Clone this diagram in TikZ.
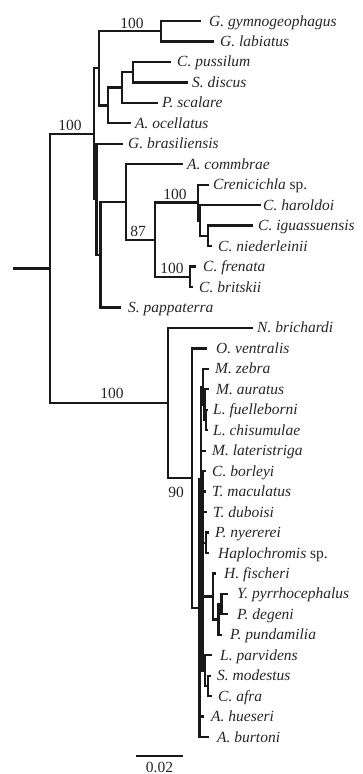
\documentclass[tikz,border=0pt]{standalone}
\usepackage{fontspec}
\setmainfont{Liberation Serif}
\newcommand{\leafnode}[5]{\coordinate (#1) at (#2,#3); \node[lab] (#1l) at (#4,#3) {#5};}
\begin{document}
\begin{tikzpicture}[x=1pt,y=-1pt]
\tikzset{
 br/.style={line width=2.3pt, line cap=rect, line join=miter, color=black!90},
 lab/.style={anchor=west, inner sep=0pt, text height=10pt, text depth=0pt, text=black!85, font=\fontsize{15.5}{18}\selectfont\itshape},
 bs/.style={anchor=base, inner sep=0pt, text=black!85, font=\fontsize{15.5}{18}\selectfont},
}
\useasboundingbox (0,0) rectangle (362,774);
% leaves
\leafnode{t0}{200}{21}{209}{G. gymnogeophagus}
\leafnode{t1}{213}{41.5}{220}{G. labiatus}
\leafnode{t2}{170}{61.9}{177}{C. pussilum}
\leafnode{t3}{187}{82.4}{192}{S. discus}
\leafnode{t4}{157}{102.8}{162}{P. scalare}
\leafnode{t5}{130}{123.3}{135}{A. ocellatus}
\leafnode{t6}{122}{143.8}{128}{G. brasiliensis}
\leafnode{t7}{182}{164.2}{187}{A. commbrae}
\leafnode{t8}{208}{184.7}{213}{Crenicichla \upshape sp.}
\leafnode{t9}{260}{205.1}{263}{C. haroldoi}
\leafnode{t10}{252}{225.6}{258}{C. iguassuensis}
\leafnode{t11}{211}{246.1}{218}{C. niederleinii}
\leafnode{t12}{195}{266.5}{203}{C. frenata}
\leafnode{t13}{192}{287}{199}{C. britskii}
\leafnode{t14}{120}{307.4}{128}{S. pappaterra}
\leafnode{t15}{252}{327.9}{257}{N. brichardi}
\leafnode{t16}{206}{348.4}{216}{O. ventralis}
\leafnode{t17}{208}{368.8}{215}{M. zebra}
\leafnode{t18}{208}{389.3}{216}{M. auratus}
\leafnode{t19}{207}{409.7}{213}{L. fuelleborni}
\leafnode{t20}{207}{430.2}{213}{L. chisumulae}
\leafnode{t21}{205}{450.7}{212}{M. lateristriga}
\leafnode{t22}{205}{471.1}{212}{C. borleyi}
\leafnode{t23}{205}{491.6}{212}{T. maculatus}
\leafnode{t24}{206}{512}{213}{T. duboisi}
\leafnode{t25}{208}{532.5}{215}{P. nyererei}
\leafnode{t26}{208}{553}{218}{Haplochromis \upshape sp.}
\leafnode{t27}{215}{573.4}{224}{H. fischeri}
\leafnode{t28}{227}{593.9}{237}{Y. pyrrhocephalus}
\leafnode{t29}{227}{614.3}{237}{P. degeni}
\leafnode{t30}{221}{634.8}{230}{P. pundamilia}
\leafnode{t31}{211}{655.3}{220}{L. parvidens}
\leafnode{t32}{210}{675.7}{217}{S. modestus}
\leafnode{t33}{211}{696.2}{218}{C. afra}
\leafnode{t34}{203}{716.6}{211}{A. hueseri}
\leafnode{t35}{208}{737.1}{217}{A. burtoni}
% internal nodes
\coordinate (r0) at (14,268.4);
\coordinate (n0) at (50,268.4);
\coordinate (nA) at (94,133.8);
\coordinate (nB) at (99,68.3);
\coordinate (nG) at (161,31.3);
\coordinate (nO) at (108,105.4);
\coordinate (nP) at (122,87.6);
\coordinate (nS) at (133,72.2);
\coordinate (nY) at (96.5,199.2);
\coordinate (nZ) at (100.5,254.7);
\coordinate (nW) at (126,201.9);
\coordinate (nV) at (155,239.7);
\coordinate (nF) at (190,276.75);
\coordinate (nU) at (198,202.6);
\coordinate (nU2) at (200,220.5);
\coordinate (nT) at (208,235.85);
\coordinate (nC) at (168,403.05);
\coordinate (n90) at (192,478.2);
\coordinate (nQ) at (199.5,607.95);
\coordinate (nR) at (201,478.8);
\coordinate (nM) at (203,386.7);
\coordinate (nM2) at (204.5,404.6);
\coordinate (nL) at (206,419.95);
\coordinate (nR2) at (202.5,570.85);
\coordinate (nPH) at (206,542.75);
\coordinate (nH) at (213,596.4);
\coordinate (nYP) at (218.5,619.45);
\coordinate (nYD) at (221.5,604.1);
\coordinate (nLP) at (205,670.6);
\coordinate (nSC) at (208,685.95);
% branches
\draw[br] (r0) -- (n0);
\draw[br] (n0) |- (nA) (n0) |- (nC);
\draw[br] (nA) |- (nB) (nA) |- (nY);
\draw[br] (nB) |- (nG) (nB) |- (nO);
\draw[br] (nG) |- (t0) (nG) |- (t1);
\draw[br] (nO) |- (nP) (nO) |- (t5);
\draw[br] (nP) |- (nS) (nP) |- (t4);
\draw[br] (nS) |- (t2) (nS) |- (t3);
\draw[br] (nY) |- (t6) (nY) |- (nZ);
\draw[br] (nZ) |- (nW) (nZ) |- (t14);
\draw[br] (nW) |- (t7) (nW) |- (nV);
\draw[br] (nV) |- (nU) (nV) |- (nF);
\draw[br] (nF) |- (t12) (nF) |- (t13);
\draw[br] (nU) |- (t8) (nU) |- (nU2);
\draw[br] (nU2) |- (t9) (nU2) |- (nT);
\draw[br] (nT) |- (t10) (nT) |- (t11);
\draw[br] (nC) |- (t15) (nC) |- (n90);
\draw[br] (n90) |- (t16) (n90) |- (nQ);
\draw[br] (nQ) |- (nR) (nQ) |- (t34) (nQ) |- (t35);
\draw[br] (nR) |- (nM) (nR) |- (t21) (nR) |- (nR2);
\draw[br] (nM) |- (t17) (nM) |- (nM2);
\draw[br] (nM2) |- (t18) (nM2) |- (nL);
\draw[br] (nL) |- (t19) (nL) |- (t20);
\draw[br] (nR2) |- (t22) (nR2) |- (t23) (nR2) |- (t24) (nR2) |- (nPH) (nR2) |- (nH) (nR2) |- (nLP);
\draw[br] (nPH) |- (t25) (nPH) |- (t26);
\draw[br] (nH) |- (t27) (nH) |- (nYP);
\draw[br] (nYP) |- (nYD) (nYP) |- (t30);
\draw[br] (nYD) |- (t28) (nYD) |- (t29);
\draw[br] (nLP) |- (t31) (nLP) |- (nSC);
\draw[br] (nSC) |- (t32) (nSC) |- (t33);
% bootstrap values
\node[bs] (b1) at (132,28.5) {100};
\node[bs] (b2) at (70,130) {100};
\node[bs] (b3) at (138,236) {87};
\node[bs] (b4) at (175,199.5) {100};
\node[bs] (b5) at (172,273) {100};
\node[bs] (b6) at (112,398.5) {100};
\node[bs] (b7) at (176,497) {90};
% scale bar
\coordinate (sa) at (136,756);
\coordinate (sb) at (183,756);
\draw[br, line cap=butt] (sa) -- (sb);
\node[bs, anchor=north] (sl) at (159.5,761.5) {0.02};
\end{tikzpicture}
\end{document}
